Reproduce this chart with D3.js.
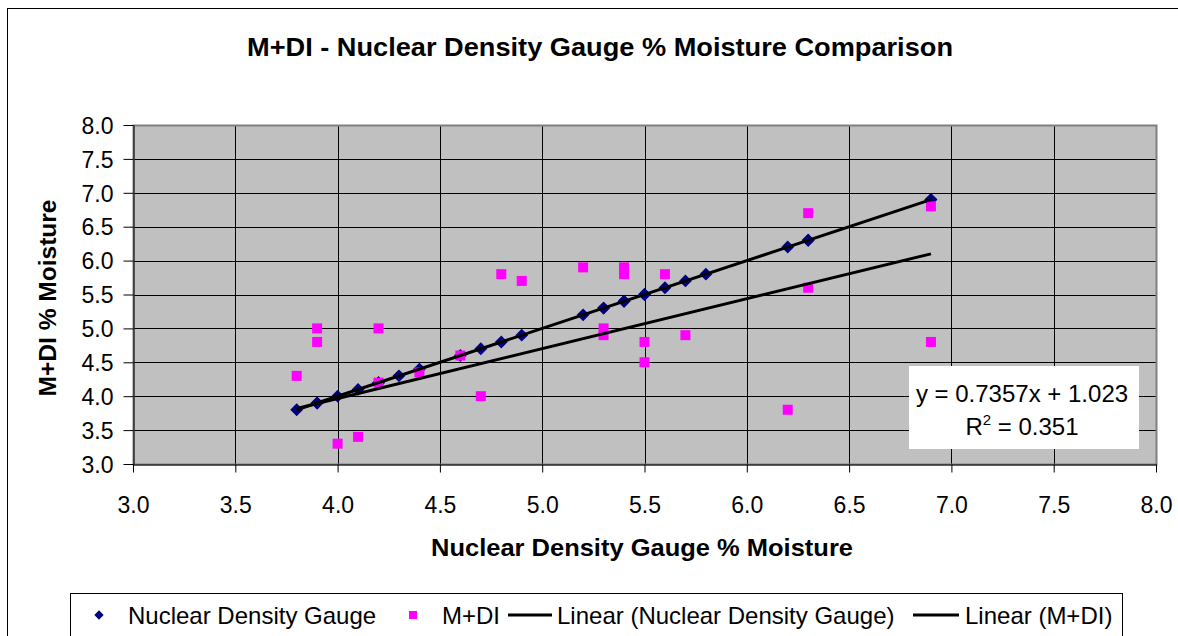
<!DOCTYPE html>
<html>
<head>
<meta charset="utf-8">
<script src="https://cdn.jsdelivr.net/npm/d3@7"></script>
<style>
  body { margin: 0; background: #fff; }
  svg { display: block; font-family: "Liberation Sans", Arial, sans-serif; }
</style>
</head>
<body>
<svg id="chart"></svg>
<script>
// readings: nuclear density gauge vs M+DI, same sample order
const ndgMoisture = [3.8, 3.9, 3.9, 4.0, 4.1, 4.2, 4.2, 4.3, 4.4, 4.6, 4.7, 4.8, 4.9, 5.2,
                     5.3, 5.3, 5.4, 5.4, 5.5, 5.5, 5.6, 5.7, 5.8, 6.2, 6.3, 6.3, 6.9, 6.9];
const mdiMoisture = [4.3, 5.0, 4.8, 3.3, 3.4, 5.0, 4.2, null, 4.35, 4.6, 4.0, 5.8, 5.7, 5.9,
                     5.0, 4.9, 5.9, 5.8, 4.8, 4.5, 5.8, 4.9, null, 3.8, 6.7, 5.6, 6.8, 4.8];

const xTicks = [3.0, 3.5, 4.0, 4.5, 5.0, 5.5, 6.0, 6.5, 7.0, 7.5, 8.0];
const yTicks = [3.0, 3.5, 4.0, 4.5, 5.0, 5.5, 6.0, 6.5, 7.0, 7.5, 8.0];

// trendline coefficients shown on the chart (M+DI)
const mdiSlope = 0.7357;
const mdiIntercept = 1.023;
const mdiR2 = 0.351;

const seriesNames = ["Nuclear Density Gauge", "M+DI",
                     "Linear (Nuclear Density Gauge)", "Linear (M+DI)"];

const width = 1178;
const height = 636;
const plot = { left: 133, right: 1156, top: 125, bottom: 464 };

const svg = d3.select("#chart").attr("width", width).attr("height", height);

// chart area border
svg.append("rect")
   .attr("x", 7.5).attr("y", 8.5)
   .attr("width", 1200).attr("height", 700)
   .attr("fill", "#fff").attr("stroke", "#000").attr("stroke-width", 1);

const xScale = d3.scaleLinear().domain([3, 8]).range([plot.left, plot.right]);
const yScale = d3.scaleLinear().domain([3, 8]).range([plot.bottom, plot.top]);

// plot background
svg.append("rect")
   .attr("x", plot.left).attr("y", plot.top)
   .attr("width", plot.right - plot.left).attr("height", plot.bottom - plot.top)
   .attr("fill", "#c0c0c0");

// gridlines
svg.append("g")
   .selectAll("line.hg")
   .data(yTicks.slice(1))
   .enter().append("line")
   .attr("x1", plot.left).attr("x2", plot.right)
   .attr("y1", d => Math.round(yScale(d)) + 0.5).attr("y2", d => Math.round(yScale(d)) + 0.5)
   .attr("stroke", "#000").attr("stroke-width", 1);

svg.append("g")
   .selectAll("line.vg")
   .data(xTicks.slice(1))
   .enter().append("line")
   .attr("y1", plot.top).attr("y2", plot.bottom)
   .attr("x1", d => Math.round(xScale(d)) + 0.5).attr("x2", d => Math.round(xScale(d)) + 0.5)
   .attr("stroke", "#000").attr("stroke-width", 1);

// plot border
svg.append("rect")
   .attr("x", plot.left + 0.5).attr("y", plot.top + 0.5)
   .attr("width", plot.right - plot.left).attr("height", plot.bottom - plot.top)
   .attr("fill", "none").attr("stroke", "#808080").attr("stroke-width", 2);

// axes
const fmt = d3.format(".1f");

const xAxis = svg.append("g")
   .attr("transform", "translate(0," + (plot.bottom + 0.5) + ")")
   .call(d3.axisBottom(xScale).tickValues(xTicks).tickFormat(fmt).tickSize(8).tickPadding(24).tickSizeOuter(0));

const yAxis = svg.append("g")
   .attr("transform", "translate(" + (plot.left + 0.5) + ",0)")
   .call(d3.axisLeft(yScale).tickValues(yTicks).tickFormat(fmt).tickSize(10).tickPadding(10).tickSizeOuter(0));

[xAxis, yAxis].forEach(ax => {
    ax.select(".domain").attr("stroke", "#000");
    ax.selectAll(".tick line").attr("stroke", "#000");
    ax.selectAll(".tick text")
      .attr("fill", "#000")
      .style("font-size", "23px")
      .style("font-family", "'Liberation Sans', Arial, sans-serif");
});
yAxis.selectAll(".tick text").attr("dy", "0.36em");

// series points
const ndgPoints = ndgMoisture.map(v => [v, v]);
const mdiPoints = ndgMoisture.map((v, i) => [v, mdiMoisture[i]]).filter(p => p[1] !== null);

svg.append("g")
   .selectAll("path")
   .data(ndgPoints)
   .enter().append("path")
   .attr("d", d3.symbol().type(d3.symbolDiamond2).size(105))
   .attr("transform", d => "translate(" + xScale(d[0]) + "," + yScale(d[1]) + ")")
   .attr("fill", "#000080");

svg.append("g")
   .selectAll("rect")
   .data(mdiPoints)
   .enter().append("rect")
   .attr("x", d => xScale(d[0]) - 5)
   .attr("y", d => yScale(d[1]) - 5)
   .attr("width", 10).attr("height", 10)
   .attr("fill", "#ff00ff");

// trendlines
const xExtent = d3.extent(ndgMoisture);
const mx = d3.mean(ndgMoisture);
const ndgSlope = d3.sum(ndgPoints, p => (p[0] - mx) * (p[1] - mx)) / d3.sum(ndgPoints, p => (p[0] - mx) ** 2);
const ndgIntercept = mx - ndgSlope * mx;

const trends = [
    { slope: ndgSlope, intercept: ndgIntercept },
    { slope: mdiSlope, intercept: mdiIntercept }
];

const lineGen = d3.line().x(d => xScale(d[0])).y(d => yScale(d[1]));

svg.append("g")
   .selectAll("path")
   .data(trends)
   .enter().append("path")
   .attr("d", t => lineGen(xExtent.map(x => [x, t.slope * x + t.intercept])))
   .attr("fill", "none")
   .attr("stroke", "#000")
   .attr("stroke-width", 3);

// equation label
const eq = svg.append("g");
eq.append("rect")
  .attr("x", 909).attr("y", 366).attr("width", 230).attr("height", 83)
  .attr("fill", "#fff");
eq.append("text")
  .attr("x", 1022).attr("y", 402)
  .attr("text-anchor", "middle")
  .style("font-size", "24px")
  .text("y = " + mdiSlope + "x + " + mdiIntercept);
const r2 = eq.append("text")
  .attr("x", 1022).attr("y", 435)
  .attr("text-anchor", "middle")
  .style("font-size", "24px");
r2.append("tspan").text("R");
r2.append("tspan").attr("dy", -10).style("font-size", "15px").text("2");
r2.append("tspan").attr("dy", 10).text(" = " + mdiR2);

// title and axis titles
svg.append("text")
   .attr("x", 600).attr("y", 56)
   .attr("text-anchor", "middle")
   .attr("textLength", 706).attr("lengthAdjust", "spacingAndGlyphs")
   .style("font-size", "25px").style("font-weight", "bold")
   .text("M+DI - Nuclear Density Gauge % Moisture Comparison");

svg.append("text")
   .attr("x", 642).attr("y", 556)
   .attr("text-anchor", "middle")
   .attr("textLength", 422).attr("lengthAdjust", "spacingAndGlyphs")
   .style("font-size", "24px").style("font-weight", "bold")
   .text("Nuclear Density Gauge % Moisture");

svg.append("text")
   .attr("transform", "translate(56,298) rotate(-90)")
   .attr("text-anchor", "middle")
   .attr("textLength", 197).attr("lengthAdjust", "spacingAndGlyphs")
   .style("font-size", "24px").style("font-weight", "bold")
   .text("M+DI % Moisture");

// legend
const legend = svg.append("g");
legend.append("rect")
      .attr("x", 70.5).attr("y", 593.5).attr("width", 1052).attr("height", 80)
      .attr("fill", "#fff").attr("stroke", "#000").attr("stroke-width", 1);

const legendY = 615;
const legendItems = [
    { sym: "diamond", sx: 99, tx: 128 },
    { sym: "square", sx: 413, tx: 442 },
    { sym: "line", sx: 508, ex: 552, tx: 557 },
    { sym: "line", sx: 913, ex: 959, tx: 965 }
];

legendItems.forEach((item, i) => {
    if (item.sym === "diamond") {
        legend.append("path")
              .attr("d", d3.symbol().type(d3.symbolDiamond2).size(55))
              .attr("transform", "translate(" + item.sx + "," + legendY + ")")
              .attr("fill", "#000080");
    } else if (item.sym === "square") {
        legend.append("rect")
              .attr("x", item.sx - 4).attr("y", legendY - 4)
              .attr("width", 8).attr("height", 8)
              .attr("fill", "#ff00ff");
    } else {
        legend.append("line")
              .attr("x1", item.sx).attr("x2", item.ex)
              .attr("y1", legendY).attr("y2", legendY)
              .attr("stroke", "#000").attr("stroke-width", 3);
    }
    legend.append("text")
          .attr("x", item.tx).attr("y", legendY)
          .attr("dy", "0.36em")
          .style("font-size", "24px")
          .text(seriesNames[i]);
});
</script>
</body>
</html>
